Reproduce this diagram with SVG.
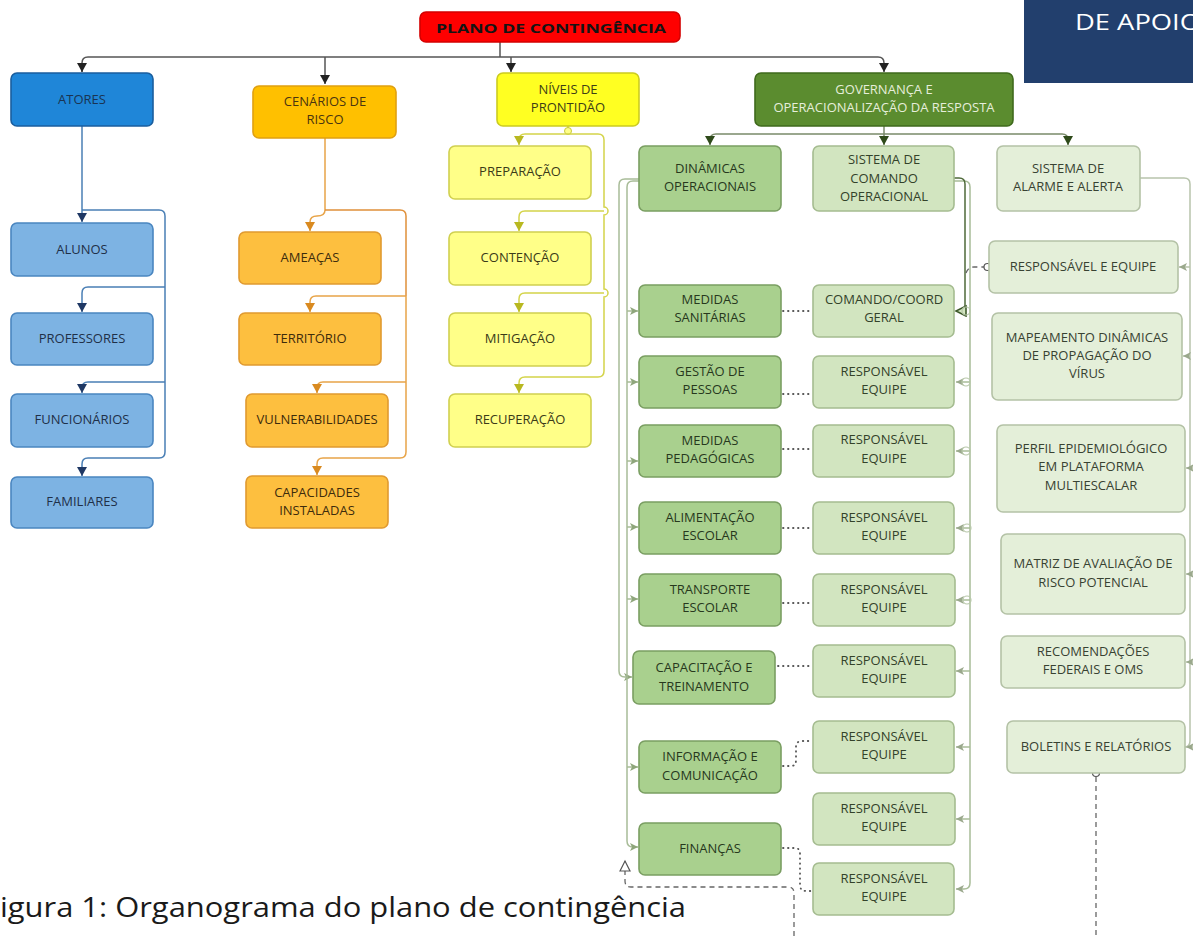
<svg xmlns="http://www.w3.org/2000/svg" width="1193" height="936" viewBox="0 0 1193 936">
<style>
.n text{font-family:"Open Sans","Noto Sans","DejaVu Sans",sans-serif;font-size:13px;text-anchor:middle}
.n rect{stroke-width:1.6}
.blue0 rect{fill:#1f86d8;stroke:#1a5e9e}.blue0 text{fill:#1a3452}
.blue rect{fill:#7db3e3;stroke:#4a86c0}.blue text{fill:#1f3048}
.or0 rect{fill:#ffc000;stroke:#e0a010}.or0 text{fill:#4a3510}
.or rect{fill:#fdbf3f;stroke:#e09a30}.or text{fill:#3d2c0c}
.ye0 rect{fill:#ffff22;stroke:#cccc20}.ye0 text{fill:#3e3e16}
.ye rect{fill:#ffff88;stroke:#d0d050}.ye text{fill:#3b3b18}
.g0 rect{fill:#5b8c2f;stroke:#3f6a1c}.g0 text{fill:#e6eedb}
.g1 rect{fill:#a9d08e;stroke:#7a9e62}.g1 text{fill:#27381d}
.g2 rect{fill:#d2e5c0;stroke:#a5bc90}.g2 text{fill:#33422a}
.g3 rect{fill:#e4efd9;stroke:#b4c2a6}.g3 text{fill:#384232}
.c{fill:none;stroke-width:1.5}
.dot{fill:none;stroke:#555;stroke-width:1.8;stroke-dasharray:0.5,4.5;stroke-linecap:round}
.dash{fill:none;stroke:#666;stroke-width:1.3;stroke-dasharray:5,4}
</style>
<defs>
<marker id="ak" markerWidth="10" markerHeight="10" refX="9" refY="5" orient="auto" markerUnits="userSpaceOnUse"><path d="M0,0 L9,5 L0,10 z" fill="#222"/></marker>
<marker id="ab" markerWidth="10" markerHeight="10" refX="9" refY="5" orient="auto" markerUnits="userSpaceOnUse"><path d="M0,0 L9,5 L0,10 z" fill="#1f3864"/></marker>
<marker id="ao" markerWidth="10" markerHeight="10" refX="9" refY="5" orient="auto" markerUnits="userSpaceOnUse"><path d="M0,0 L9,5 L0,10 z" fill="#d98a20"/></marker>
<marker id="ay" markerWidth="10" markerHeight="10" refX="9" refY="5" orient="auto" markerUnits="userSpaceOnUse"><path d="M0,0 L9,5 L0,10 z" fill="#b8b820"/></marker>
<marker id="ag" markerWidth="10" markerHeight="10" refX="9" refY="5" orient="auto" markerUnits="userSpaceOnUse"><path d="M0,0 L9,5 L0,10 z" fill="#2e4a1a"/></marker>
<marker id="al" markerWidth="10" markerHeight="10" refX="8" refY="5" orient="auto" markerUnits="userSpaceOnUse"><path d="M0,1 L8,5 L0,9 L2,5 z" fill="#8fa67c"/></marker>
<marker id="ar" markerWidth="10" markerHeight="10" refX="8" refY="5" orient="auto" markerUnits="userSpaceOnUse"><path d="M0,1 L8,5 L0,9 L2,5 z" fill="#9aa88c"/></marker>
<marker id="ah" markerWidth="14" markerHeight="14" refX="11" refY="6" orient="auto" markerUnits="userSpaceOnUse"><path d="M1,1 L11,6 L1,11 z" fill="#fff" stroke="#555" stroke-width="1.2"/></marker>
<marker id="ahd" markerWidth="14" markerHeight="14" refX="11" refY="6" orient="auto" markerUnits="userSpaceOnUse"><path d="M1,1 L11,6 L1,11 z" fill="#d2e5c0" stroke="#3f5a2c" stroke-width="1.6"/></marker>
</defs>

<rect x="1024" y="0" width="169" height="83" fill="#223f6d"/>
<text x="1075" y="30" font-family="'Open Sans','Noto Sans',sans-serif" font-size="22" fill="#ffffff" textLength="126" lengthAdjust="spacingAndGlyphs">DE APOIO</text>

<g id="connectors">
  <path class="c" stroke="#555" d="M500,42 V57"/>
  <path class="c" stroke="#555" d="M82,72 V63 Q82,57 88,57 H878 Q884,57 884,63 V72" marker-end="url(#ak)"/>
  <path class="c" stroke="#555" d="M82,63 V72" marker-end="url(#ak)"/>
  <path class="c" stroke="#555" d="M325,57 V84" marker-end="url(#ak)"/>
  <path class="c" stroke="#555" d="M511,57 V72" marker-end="url(#ak)"/>
  <path class="c" stroke="#4a7fb5" d="M82,126 V222" marker-end="url(#ab)"/>
  <path class="c" stroke="#4a7fb5" d="M82,210 H159 Q165,210 165,216 V452 Q165,458 159,458 H88 Q82,458 82,464 V476" marker-end="url(#ab)"/>
  <path class="c" stroke="#4a7fb5" d="M165,287 H88 Q82,287 82,293 V312" marker-end="url(#ab)"/>
  <path class="c" stroke="#4a7fb5" d="M165,382 H88 Q82,382 82,388 V393" marker-end="url(#ab)"/>
  <path class="c" stroke="#e8a448" d="M325,138 V210 Q325,216 317,216 Q310,216 310,222 V231" marker-end="url(#ao)"/>
  <path class="c" stroke="#e0903a" stroke-width="2" d="M325,210 H400 Q406,210 406,216 V296"/>
  <path class="c" stroke="#e8a448" d="M406,296 V452 Q406,458 400,458 H323 Q317,458 317,464 V475" marker-end="url(#ao)"/>
  <path class="c" stroke="#e8a448" d="M406,296 H316 Q310,296 310,302 V312" marker-end="url(#ao)"/>
  <path class="c" stroke="#e8a448" d="M406,382 H323 Q317,382 317,388 V393" marker-end="url(#ao)"/>
  <path class="c" stroke="#d4d44a" d="M568,126 V134"/>
  <circle cx="568" cy="131" r="3.5" fill="#ffff88" stroke="#c8c840" stroke-width="1"/>
  <path class="c" stroke="#d4d44a" d="M568,134 H525 Q519,134 519,140 V145" marker-end="url(#ay)"/>
  <path class="c" stroke="#d4d44a" d="M568,134 H598 Q604,134 604,140 V207 A4,4 0 0 1 604,215 V289 A4,4 0 0 1 604,297 V371 Q604,377 598,377 H525 Q519,377 519,383 V393" marker-end="url(#ay)"/>
  <path class="c" stroke="#d4d44a" d="M604,211 H525 Q519,211 519,217 V231" marker-end="url(#ay)"/>
  <path class="c" stroke="#d4d44a" d="M604,293 H525 Q519,293 519,299 V312" marker-end="url(#ay)"/>
  <path class="c" stroke="#7a8a6a" d="M884,126 V145" marker-end="url(#ag)"/>
  <path class="c" stroke="#7a8a6a" d="M716,134 H1062 Q1068,134 1068,140 V145" marker-end="url(#ag)"/>
  <path class="c" stroke="#7a8a6a" d="M716,134 Q710,134 710,140 V145" marker-end="url(#ag)"/>
  <path class="c" stroke="#a8bc98" d="M639,179 H625 Q619,179 619,185 V671 Q619,677 625,677 H632" marker-end="url(#al)"/>
  <path class="c" stroke="#a8bc98" d="M639,181 H633 Q627,181 627,187 V841 Q627,847 633,847 H638" marker-end="url(#al)"/>
  <path class="c" stroke="#a8bc98" d="M627,311 H638" marker-end="url(#al)"/>
  <path class="c" stroke="#a8bc98" d="M627,382 H638" marker-end="url(#al)"/>
  <path class="c" stroke="#a8bc98" d="M627,461 H638" marker-end="url(#al)"/>
  <path class="c" stroke="#a8bc98" d="M627,527 H638" marker-end="url(#al)"/>
  <path class="c" stroke="#a8bc98" d="M627,599 H638" marker-end="url(#al)"/>
  <path class="c" stroke="#a8bc98" d="M627,767 H638" marker-end="url(#al)"/>
  <path class="c" stroke="#a8bc98" d="M954,181 H964 Q970,181 970,187 V883 Q970,889 964,889 H956" marker-end="url(#ar)"/>
  <path class="c" stroke="#4f6a3a" d="M954,178 H959 Q965,178 965,184 V305 Q965,311 959,311 H956" marker-end="url(#ahd)"/>
  <path class="c" stroke="#a8bc98" d="M970,382 H956" marker-end="url(#ar)"/>
  <path class="c" stroke="#a8bc98" d="M970,451 H956" marker-end="url(#ar)"/>
  <path class="c" stroke="#a8bc98" d="M970,528 H956" marker-end="url(#ar)"/>
  <path class="c" stroke="#a8bc98" d="M970,600 H956" marker-end="url(#ar)"/>
  <path class="c" stroke="#a8bc98" d="M970,671 H956" marker-end="url(#ar)"/>
  <path class="c" stroke="#a8bc98" d="M970,747 H956" marker-end="url(#ar)"/>
  <path class="c" stroke="#a8bc98" d="M970,819 H956" marker-end="url(#ar)"/>
  <g fill="none" stroke="#b8c8aa" stroke-width="1.2">
    <circle cx="966" cy="311" r="4"/>
    <circle cx="966" cy="382" r="4"/>
    <circle cx="966" cy="451" r="4"/>
    <circle cx="967" cy="528" r="4"/>
    <circle cx="967" cy="600" r="4"/>
  </g>
  <path class="dash" stroke="#555" d="M966,273 Q968,267 974,267 H984"/>
  <circle cx="987.5" cy="267" r="3.5" fill="#fff" stroke="#555" stroke-width="1.2"/>
  <path class="c" stroke="#b8c4ac" d="M1140,178 H1184 Q1190,178 1190,184 V741 Q1190,747 1184,747 H1186"/>
  <path class="c" stroke="#b8c4ac" d="M1190,267 H1179" marker-end="url(#ar)"/>
  <path class="c" stroke="#b8c4ac" d="M1190,356 H1183" marker-end="url(#ar)"/>
  <path class="c" stroke="#b8c4ac" d="M1193,468 H1186" marker-end="url(#ar)"/>
  <path class="c" stroke="#b8c4ac" d="M1193,574 H1186" marker-end="url(#ar)"/>
  <path class="c" stroke="#b8c4ac" d="M1193,662 H1186" marker-end="url(#ar)"/>
  <path class="c" stroke="#b8c4ac" d="M1193,747 H1186" marker-end="url(#ar)"/>
  <path class="dot" d="M783,311 H812"/>
  <path class="dot" d="M783,394 H812"/>
  <path class="dot" d="M783,449 H812"/>
  <path class="dot" d="M783,528 H812"/>
  <path class="dot" d="M783,603 H812"/>
  <path class="dot" d="M778,666 H812"/>
  <path class="dot" d="M783,766 H791 Q796,766 796,760 V747 Q796,741 802,741 H812"/>
  <path class="dot" d="M783,848 H795 Q800,848 800,854 V885 Q800,891 806,891 H812"/>
  <path class="dash" d="M794,936 V893 Q794,887 788,887 H631 Q625,887 625,881 V861" marker-end="url(#ah)"/>
  <path class="dash" d="M1096,777 V936"/>
  <circle cx="1096" cy="773" r="3.5" fill="#fff" stroke="#555" stroke-width="1.2"/>
</g>

<g id="plano" class="n"><rect x="420" y="12" width="260" height="30" rx="6" fill="#ff0000" stroke="#d40000"/><text x="551" y="33" font-weight="bold" font-size="16.5" fill="#141414" textLength="230" lengthAdjust="spacingAndGlyphs">PLANO DE CONTINGÊNCIA</text></g>

<g id="atores" class="n blue0"><rect x="11" y="73" width="142" height="53" rx="6"/><text x="82" y="104">ATORES</text></g>
<g id="alunos" class="n blue"><rect x="11" y="223" width="142" height="53" rx="6"/><text x="82" y="254">ALUNOS</text></g>
<g id="professores" class="n blue"><rect x="11" y="313" width="142" height="52" rx="6"/><text x="82" y="343">PROFESSORES</text></g>
<g id="funcionarios" class="n blue"><rect x="11" y="394" width="142" height="53" rx="6"/><text x="82" y="424">FUNCIONÁRIOS</text></g>
<g id="familiares" class="n blue"><rect x="11" y="477" width="142" height="51" rx="6"/><text x="82" y="506">FAMILIARES</text></g>

<g id="cenarios" class="n or0"><rect x="253" y="86" width="143" height="52" rx="6"/><text x="325" y="106">CENÁRIOS DE</text><text x="325" y="124">RISCO</text></g>
<g id="ameacas" class="n or"><rect x="239" y="232" width="142" height="52" rx="6"/><text x="310" y="262">AMEAÇAS</text></g>
<g id="territorio" class="n or"><rect x="239" y="313" width="142" height="52" rx="6"/><text x="310" y="343">TERRITÓRIO</text></g>
<g id="vulnerabilidades" class="n or"><rect x="246" y="394" width="142" height="53" rx="6"/><text x="317" y="424">VULNERABILIDADES</text></g>
<g id="capacidades" class="n or"><rect x="246" y="476" width="142" height="52" rx="6"/><text x="317" y="497">CAPACIDADES</text><text x="317" y="515">INSTALADAS</text></g>

<g id="niveis" class="n ye0"><rect x="497" y="73" width="142" height="53" rx="6"/><text x="568" y="94">NÍVEIS DE</text><text x="568" y="112">PRONTIDÃO</text></g>
<g id="preparacao" class="n ye"><rect x="449" y="146" width="142" height="53" rx="6"/><text x="520" y="176">PREPARAÇÃO</text></g>
<g id="contencao" class="n ye"><rect x="449" y="232" width="142" height="53" rx="6"/><text x="520" y="262">CONTENÇÃO</text></g>
<g id="mitigacao" class="n ye"><rect x="449" y="313" width="142" height="53" rx="6"/><text x="520" y="343">MITIGAÇÃO</text></g>
<g id="recuperacao" class="n ye"><rect x="449" y="394" width="142" height="53" rx="6"/><text x="520" y="424">RECUPERAÇÃO</text></g>

<g id="governanca" class="n g0"><rect x="755" y="73" width="258" height="53" rx="6"/><text x="884" y="94">GOVERNANÇA E</text><text x="884" y="112">OPERACIONALIZAÇÃO DA RESPOSTA</text></g>

<g id="dinamicas" class="n g1"><rect x="639" y="146" width="142" height="65" rx="6"/><text x="710" y="173">DINÂMICAS</text><text x="710" y="191">OPERACIONAIS</text></g>
<g id="sco" class="n g2"><rect x="813" y="146" width="141" height="65" rx="6"/><text x="884" y="164">SISTEMA DE</text><text x="884" y="183">COMANDO</text><text x="884" y="201">OPERACIONAL</text></g>
<g id="alarme" class="n g3"><rect x="997" y="146" width="143" height="65" rx="6"/><text x="1068" y="173">SISTEMA DE</text><text x="1068" y="191">ALARME E ALERTA</text></g>

<g id="sanitarias" class="n g1"><rect x="639" y="285" width="142" height="52" rx="6"/><text x="710" y="304">MEDIDAS</text><text x="710" y="322">SANITÁRIAS</text></g>
<g id="pessoas" class="n g1"><rect x="639" y="356" width="142" height="52" rx="6"/><text x="710" y="376">GESTÃO DE</text><text x="710" y="394">PESSOAS</text></g>
<g id="pedagogicas" class="n g1"><rect x="639" y="425" width="142" height="52" rx="6"/><text x="710" y="445">MEDIDAS</text><text x="710" y="463">PEDAGÓGICAS</text></g>
<g id="alimentacao" class="n g1"><rect x="639" y="502" width="142" height="52" rx="6"/><text x="710" y="522">ALIMENTAÇÃO</text><text x="710" y="540">ESCOLAR</text></g>
<g id="transporte" class="n g1"><rect x="639" y="574" width="142" height="52" rx="6"/><text x="710" y="594">TRANSPORTE</text><text x="710" y="612">ESCOLAR</text></g>
<g id="capacitacao" class="n g1"><rect x="633" y="651" width="142" height="53" rx="6"/><text x="704" y="672">CAPACITAÇÃO E</text><text x="704" y="691">TREINAMENTO</text></g>
<g id="informacao" class="n g1"><rect x="639" y="741" width="142" height="52" rx="6"/><text x="710" y="761">INFORMAÇÃO E</text><text x="710" y="780">COMUNICAÇÃO</text></g>
<g id="financas" class="n g1"><rect x="639" y="823" width="142" height="52" rx="6"/><text x="710" y="853">FINANÇAS</text></g>

<g id="comando" class="n g2"><rect x="813" y="285" width="141" height="52" rx="6"/><text x="884" y="304">COMANDO/COORD</text><text x="884" y="322">GERAL</text></g>
<g id="resp1" class="n g2"><rect x="813" y="356" width="141" height="52" rx="6"/><text x="884" y="376">RESPONSÁVEL</text><text x="884" y="394">EQUIPE</text></g>
<g id="resp2" class="n g2"><rect x="813" y="425" width="141" height="52" rx="6"/><text x="884" y="444">RESPONSÁVEL</text><text x="884" y="463">EQUIPE</text></g>
<g id="resp3" class="n g2"><rect x="813" y="502" width="141" height="52" rx="6"/><text x="884" y="522">RESPONSÁVEL</text><text x="884" y="540">EQUIPE</text></g>
<g id="resp4" class="n g2"><rect x="813" y="574" width="142" height="52" rx="6"/><text x="884" y="594">RESPONSÁVEL</text><text x="884" y="612">EQUIPE</text></g>
<g id="resp5" class="n g2"><rect x="813" y="645" width="142" height="52" rx="6"/><text x="884" y="665">RESPONSÁVEL</text><text x="884" y="683">EQUIPE</text></g>
<g id="resp6" class="n g2"><rect x="813" y="721" width="141" height="52" rx="6"/><text x="884" y="741">RESPONSÁVEL</text><text x="884" y="759">EQUIPE</text></g>
<g id="resp7" class="n g2"><rect x="813" y="793" width="142" height="52" rx="6"/><text x="884" y="813">RESPONSÁVEL</text><text x="884" y="831">EQUIPE</text></g>
<g id="resp8" class="n g2"><rect x="813" y="863" width="141" height="52" rx="6"/><text x="884" y="883">RESPONSÁVEL</text><text x="884" y="901">EQUIPE</text></g>

<g id="resp_equipe" class="n g3"><rect x="989" y="241" width="189" height="52" rx="6"/><text x="1083" y="271">RESPONSÁVEL E EQUIPE</text></g>
<g id="mapeamento" class="n g3"><rect x="992" y="313" width="190" height="87" rx="6"/><text x="1087" y="342">MAPEAMENTO DINÂMICAS</text><text x="1087" y="360">DE PROPAGAÇÃO DO</text><text x="1087" y="378">VÍRUS</text></g>
<g id="perfil" class="n g3"><rect x="997" y="425" width="188" height="87" rx="6"/><text x="1091" y="453">PERFIL EPIDEMIOLÓGICO</text><text x="1091" y="471">EM PLATAFORMA</text><text x="1091" y="490">MULTIESCALAR</text></g>
<g id="matriz" class="n g3"><rect x="1001" y="534" width="184" height="80" rx="6"/><text x="1093" y="568">MATRIZ DE AVALIAÇÃO DE</text><text x="1093" y="587">RISCO POTENCIAL</text></g>
<g id="recomendacoes" class="n g3"><rect x="1001" y="636" width="184" height="52" rx="6"/><text x="1093" y="656">RECOMENDAÇÕES</text><text x="1093" y="674">FEDERAIS E OMS</text></g>
<g id="boletins" class="n g3"><rect x="1007" y="721" width="178" height="52" rx="6"/><text x="1096" y="751">BOLETINS E RELATÓRIOS</text></g>

<text x="0" y="917" font-family="'Open Sans','Noto Sans',sans-serif" font-size="27" fill="#1a1a1a" textLength="686" lengthAdjust="spacingAndGlyphs">igura 1: Organograma do plano de contingência</text>
</svg>
